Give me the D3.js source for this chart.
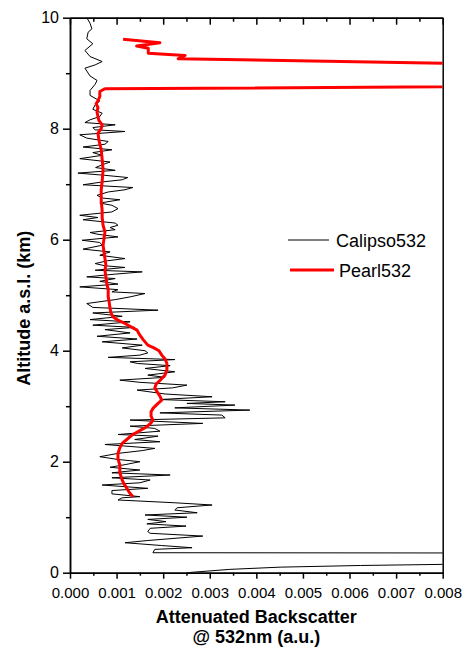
<!DOCTYPE html>
<html>
<head>
<meta charset="utf-8">
<script src="https://cdn.jsdelivr.net/npm/d3@7"></script>
<style>
    body { margin: 0; background: #fff; }
    text { font-family: Arial, "Liberation Sans", sans-serif; fill: #000; }
</style>
</head>
<body>
<div id="chart"></div>
<script>

// Calipso 532nm profile (altitude in km, attenuated backscatter)
const calipsoAlt = [0.00,0.06,0.10,0.13,0.15,0.20,0.34,0.36,0.42,0.45,
    0.49,0.54,0.58,0.66,0.71,0.74,0.80,0.84,0.88,0.92,
    0.96,1.00,1.04,1.08,1.13,1.17,1.22,1.26,1.31,1.35,
    1.37,1.42,1.48,1.52,1.58,1.62,1.67,1.71,1.76,1.80,
    1.85,1.90,1.95,2.00,2.04,2.09,2.15,2.20,2.24,2.31,
    2.36,2.40,2.46,2.49,2.55,2.60,2.64,2.69,2.73,2.75,
    2.79,2.84,2.88,2.93,2.97,3.02,3.05,3.08,3.12,3.17,
    3.22,3.29,3.33,3.38,3.43,3.47,3.52,3.56,3.62,3.68,
    3.73,3.77,3.80,3.84,3.88,3.92,3.96,4.00,4.05,4.10,
    4.16,4.21,4.26,4.32,4.38,4.42,4.46,4.52,4.56,4.62,
    4.68,4.73,4.78,4.85,4.92,4.97,5.03,5.06,5.10,5.15,
    5.20,5.25,5.30,5.33,5.38,5.42,5.45,5.50,5.53,5.57,
    5.62,5.66,5.72,5.78,5.83,5.90,5.95,5.99,6.05,6.10,
    6.13,6.18,6.22,6.26,6.30,6.36,6.40,6.44,6.50,6.56,
    6.62,6.66,6.72,6.75,6.80,6.86,6.90,6.94,6.99,7.04,
    7.08,7.12,7.16,7.20,7.25,7.30,7.35,7.40,7.46,7.52,
    7.57,7.62,7.67,7.72,7.77,7.83,7.89,7.95,7.98,8.02,
    8.07,8.11,8.16,8.22,8.28,8.35,8.43,8.50,8.60,8.69,
    8.80,8.87,8.95,9.09,9.15,9.21,9.30,9.41,9.53,9.62,
    9.74,9.80,9.90,10.00];

const calipsoBsc = [0.00251,0.00343,0.00451,0.00623,0.00799,0.030,0.030,0.00178,0.00182,0.00262,
    0.00196,0.00118,0.00167,0.00285,0.00172,0.00167,0.00172,0.00249,0.00165,0.00206,
    0.00167,0.00251,0.00161,0.00273,0.00225,0.00230,0.00305,0.00225,0.00103,0.00112,
    0.00150,0.00090,0.00090,0.00167,0.00069,0.00150,0.00172,0.00090,0.00215,0.00090,
    0.00150,0.00086,0.00120,0.00150,0.00103,0.00064,0.00103,0.00155,0.00182,0.00075,
    0.00193,0.00139,0.00189,0.00103,0.00193,0.00182,0.00129,0.00285,0.00178,0.00129,
    0.00333,0.00326,0.00193,0.00386,0.00225,0.00354,0.00251,0.00333,0.00193,0.00305,
    0.00204,0.00144,0.00220,0.00251,0.00150,0.00107,0.00204,0.00167,0.00225,0.00161,
    0.00215,0.00145,0.00129,0.00225,0.00082,0.00150,0.00167,0.00161,0.00112,0.00155,
    0.00069,0.00144,0.00058,0.00129,0.00075,0.00139,0.00049,0.00129,0.00043,0.00112,
    0.00049,0.00189,0.00049,0.00036,0.00097,0.00129,0.00161,0.00090,0.00103,0.00021,
    0.00103,0.00064,0.00097,0.00036,0.00097,0.00155,0.00054,0.00118,0.00075,0.00054,
    0.00080,0.00118,0.00064,0.00086,0.00028,0.00069,0.00064,0.00026,0.00103,0.00058,
    0.00043,0.00097,0.00086,0.00103,0.00097,0.00028,0.00060,0.00021,0.00090,0.00103,
    0.00090,0.00064,0.00107,0.00070,0.00058,0.00082,0.00118,0.00135,0.00028,0.00069,
    0.00112,0.00124,0.00075,0.00017,0.00097,0.00055,0.00069,0.00086,0.00021,0.00069,
    0.00049,0.00090,0.00028,0.00075,0.00082,0.00036,0.00021,0.00118,0.00054,0.00049,
    0.00097,0.00032,0.00043,0.00064,0.00069,0.00049,0.00054,0.00064,0.00043,0.00043,
    0.00054,0.00058,0.00043,0.00032,0.00054,0.00069,0.00043,0.00032,0.00049,0.00036,
    0.00039,0.00047,0.00043,0.00036];

// Pearl 532nm profile
const pearlAlt = [1.37,1.45,1.52,1.60,1.67,1.80,1.94,2.05,2.15,2.25,
    2.33,2.40,2.48,2.55,2.62,2.70,2.75,2.82,2.90,2.96,
    3.05,3.11,3.18,3.26,3.33,3.40,3.48,3.56,3.66,3.77,
    3.85,3.92,4.00,4.05,4.10,4.20,4.28,4.37,4.43,4.49,
    4.55,4.61,4.68,4.76,4.88,4.97,5.10,5.21,5.33,5.45,
    5.55,5.66,5.78,5.90,6.02,6.14,6.26,6.40,6.53,6.70,
    6.90,7.05,7.26,7.45,7.62,7.80,7.92,8.00,8.07,8.15,
    8.22,8.30,8.38,8.45,8.50,8.58,8.67,8.72,8.86,9.26,
    9.32,9.36,9.45,9.49,9.55,9.61];

const pearlBsc = [0.00135,0.00127,0.00122,0.00116,0.00112,0.00107,0.00107,0.00103,0.00103,0.00107,
    0.00112,0.00122,0.00133,0.00148,0.00163,0.00174,0.00178,0.00174,0.00174,0.00178,
    0.00189,0.00197,0.00193,0.00187,0.00182,0.00185,0.00195,0.00204,0.00208,0.00208,
    0.00204,0.00197,0.00191,0.00180,0.00167,0.00157,0.00150,0.00144,0.00131,0.00118,
    0.00103,0.00092,0.00088,0.00086,0.00084,0.00082,0.00082,0.00079,0.00077,0.00075,
    0.00077,0.00075,0.00073,0.00071,0.00073,0.00075,0.00071,0.00069,0.00069,0.00067,
    0.00067,0.00069,0.00071,0.00069,0.00067,0.00062,0.00060,0.00067,0.00069,0.00062,
    0.00060,0.00058,0.00060,0.00056,0.00060,0.00064,0.00064,0.00075,0.030,0.00232,
    0.00247,0.00168,0.00168,0.00143,0.00193,0.00114];

const seriesNames = ["Calipso532", "Pearl532"];
const xTicks = [0, 0.001, 0.002, 0.003, 0.004, 0.005, 0.006, 0.007, 0.008];
const xMinorTicks = [0.0005, 0.0015, 0.0025, 0.0035, 0.0045, 0.0055, 0.0065, 0.0075];
const yTicks = [0, 2, 4, 6, 8, 10];
const yMinorTicks = [1, 3, 5, 7, 9];


function ProfileChart(id){
    var self = this;
    self.sectionId = id;
    self.initVis();
}

ProfileChart.prototype.initVis = function(){
    var self = this;

    self.svgWidth = 463;
    self.svgHeight = 648;
    self.margin = { top: 17.7, right: 20.3, bottom: 75.3, left: 70 };

    self.svg = d3.select(`#${self.sectionId}`)
        .append("svg")
        .attr("width", self.svgWidth)
        .attr("height", self.svgHeight);

    self.x = d3.scaleLinear()
        .domain([0, 0.008])
        .range([self.margin.left, self.svgWidth - self.margin.right]);

    self.y = d3.scaleLinear()
        .domain([0, 10])
        .range([self.svgHeight - self.margin.bottom, self.margin.top]);

    let x0 = self.x.range()[0], x1 = self.x.range()[1];
    let y0 = self.y.range()[0], y1 = self.y.range()[1];

    self.svg.append("clipPath")
        .attr("id", "plotClip")
        .append("rect")
        .attr("x", x0).attr("y", y1)
        .attr("width", x1 - x0).attr("height", y0 - y1);

    // bottom axis, major + minor ticks
    self.svg.append("g")
        .attr("class", "axis xax")
        .attr("transform", `translate(0, ${y0})`)
        .call(d3.axisBottom(self.x).tickValues(xTicks).tickSizeInner(6).tickSizeOuter(0)
            .tickPadding(9).tickFormat(d3.format(".3f")));

    self.svg.append("g")
        .attr("class", "axis minor")
        .attr("transform", `translate(0, ${y0})`)
        .call(d3.axisBottom(self.x).tickValues(xMinorTicks).tickSizeInner(3).tickSizeOuter(0).tickFormat(""));

    // top axis, ticks pointing inward
    self.svg.append("g")
        .attr("class", "axis")
        .attr("transform", `translate(0, ${y1})`)
        .call(d3.axisTop(self.x).tickValues(xTicks).tickSizeInner(-7).tickSizeOuter(0).tickFormat(""));

    self.svg.append("g")
        .attr("class", "axis minor")
        .attr("transform", `translate(0, ${y1})`)
        .call(d3.axisTop(self.x).tickValues(xMinorTicks).tickSizeInner(-4).tickSizeOuter(0).tickFormat(""));

    // left axis
    self.svg.append("g")
        .attr("class", "axis yax")
        .attr("transform", `translate(${x0}, 0)`)
        .call(d3.axisLeft(self.y).tickValues(yTicks).tickSizeInner(7).tickSizeOuter(0).tickPadding(4));

    self.svg.append("g")
        .attr("class", "axis minor")
        .attr("transform", `translate(${x0}, 0)`)
        .call(d3.axisLeft(self.y).tickValues(yMinorTicks).tickSizeInner(4).tickSizeOuter(0).tickFormat(""));

    // right axis, plain line
    self.svg.append("g")
        .attr("class", "axis")
        .attr("transform", `translate(${x1}, 0)`)
        .call(d3.axisRight(self.y).tickValues([]).tickSizeOuter(0));

    self.svg.selectAll(".axis path, .axis line")
        .attr("stroke", "#000")
        .attr("stroke-width", 1.5);

    self.svg.selectAll(".axis text")
        .attr("font-family", "Arial, 'Liberation Sans', sans-serif")
        .attr("font-size", 15)
        .attr("fill", "#000");

    self.svg.selectAll(".yax text")
        .attr("font-size", 16);

    // profiles
    let calipso = calipsoAlt.map((a, i) => ({ alt: a, bsc: calipsoBsc[i] }));
    let pearl = pearlAlt.map((a, i) => ({ alt: a, bsc: pearlBsc[i] }));

    let line = d3.line()
        .x(function(d) { return self.x(d.bsc); })
        .y(function(d) { return self.y(d.alt); });

    let plot = self.svg.append("g").attr("clip-path", "url(#plotClip)");

    plot.append("path")
        .datum(calipso)
        .attr("fill", "none")
        .attr("stroke", "#000")
        .attr("stroke-width", 1)
        .attr("d", line);

    plot.append("path")
        .datum(pearl)
        .attr("fill", "none")
        .attr("stroke", "#ff0000")
        .attr("stroke-width", 3)
        .attr("stroke-linejoin", "round")
        .attr("d", line);

    // legend
    let legend = self.svg.append("g");
    let legendRows = [
        { name: seriesNames[0], color: "#000", width: 1, lx: 288, lx2: 329, ly: 240, tx: 336, ty: 246.5 },
        { name: seriesNames[1], color: "#ff0000", width: 3, lx: 290, lx2: 334, ly: 270, tx: 339, ty: 276.5 }
    ];
    legendRows.forEach(function(r){
        legend.append("line")
            .attr("x1", r.lx).attr("x2", r.lx2)
            .attr("y1", r.ly).attr("y2", r.ly)
            .attr("stroke", r.color)
            .attr("stroke-width", r.width);
        legend.append("text")
            .attr("x", r.tx).attr("y", r.ty)
            .attr("font-size", 18)
            .text(r.name);
    });

    // axis titles
    self.svg.append("text")
        .attr("x", (x0 + x1) / 2).attr("y", 623)
        .attr("text-anchor", "middle")
        .attr("font-size", 18)
        .attr("font-weight", "bold")
        .text("Attenuated Backscatter");

    self.svg.append("text")
        .attr("x", (x0 + x1) / 2).attr("y", 643)
        .attr("text-anchor", "middle")
        .attr("font-size", 18)
        .attr("font-weight", "bold")
        .text("@ 532nm (a.u.)");

    self.svg.append("text")
        .attr("transform", `translate(30, ${(y0 + y1) / 2 + 13}) rotate(-90)`)
        .attr("text-anchor", "middle")
        .attr("font-size", 18)
        .attr("font-weight", "bold")
        .text("Altitude a.s.l. (km)");
}

new ProfileChart("chart");
</script>
</body>
</html>
